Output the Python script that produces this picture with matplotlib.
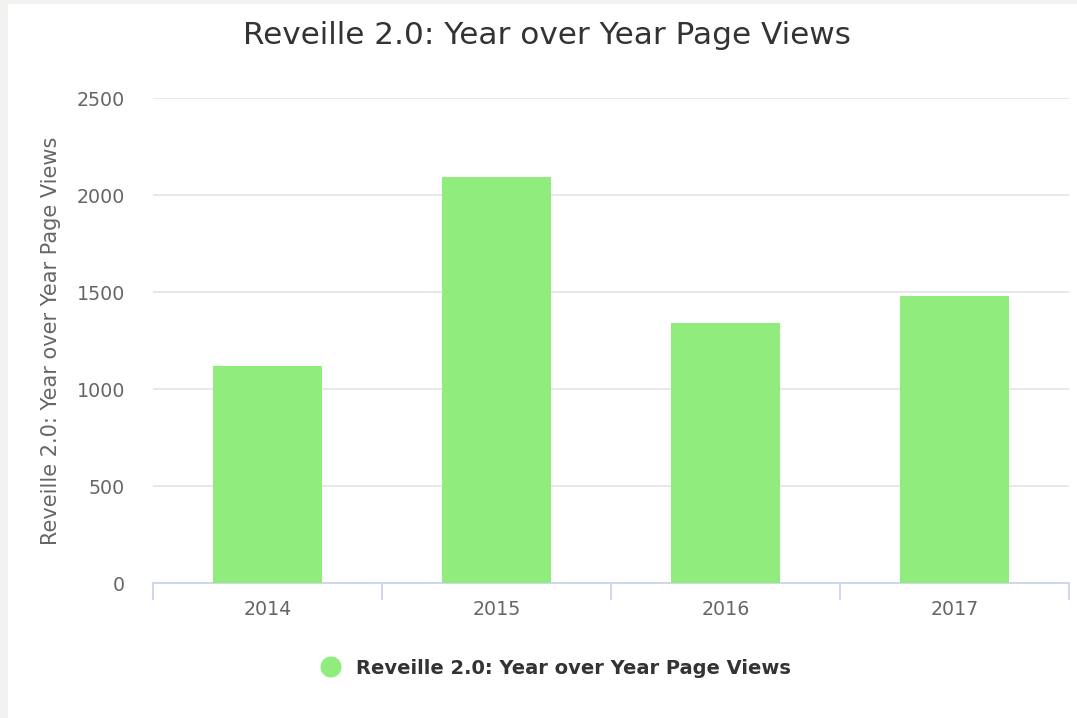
import matplotlib
matplotlib.use("Agg")
import matplotlib.pyplot as plt
from matplotlib.patches import Rectangle, Ellipse
import numpy as np

title = "Reveille 2.0: Year over Year Page Views"
years = ["2014", "2015", "2016", "2017"]
views = [1120, 2095, 1342, 1482]
yticks = [0, 500, 1000, 1500, 2000, 2500]

bar_color = "#90ed7d"
W, H = 1077, 718

plt.rcParams['font.family'] = ['DejaVu Sans']
fig = plt.figure(figsize=(W / 100, H / 100), dpi=100)
fig.patch.set_facecolor("#f2f2f0")
# white chart card, leaving the thin grey frame on the left and top
fig.patches.append(Rectangle((8 / W, 0), 1, 1 - 4 / H, transform=fig.transFigure,
                             facecolor="white", edgecolor="none", zorder=-10))

ax = fig.add_axes([153 / W, (H - 583.3) / H, (1069 - 153) / W, (583.3 - 98) / H])
ax.set_zorder(2)
ax.set_facecolor("none")

x = np.arange(len(years))
ax.bar(x, views, width=0.48, color=bar_color, zorder=3)

ax.set_xlim(-0.5, len(years) - 0.5)
ax.set_ylim(0, 2500)
ax.set_yticks(yticks)
ax.set_yticklabels([str(t) for t in yticks], color="#666666", fontsize=13.7)
ax.tick_params(axis="y", length=0, pad=20)
ax.yaxis.grid(True, color="#e6e6e6", linewidth=1.3, zorder=0)

ax.set_xticks(x)
ax.set_xticklabels(years, color="#666666", fontsize=13.7)
ax.tick_params(axis="x", length=0, pad=12)
# category boundary ticks
ax.set_xticks(np.arange(len(years) + 1) - 0.5, minor=True)
ax.tick_params(axis="x", which="minor", length=12, color="#ccd6eb", width=1.3)

for s in ["top", "right", "left"]:
    ax.spines[s].set_visible(False)
ax.spines["bottom"].set_color("#ccd6eb")
ax.spines["bottom"].set_linewidth(1.3)

ax.set_ylabel(title, color="#666666", fontsize=15, labelpad=11)

fig.text(547 / W, 1 - 36 / H, title, ha="center", va="center",
         color="#333333", fontsize=22.4, zorder=3)

# legend
fig.patches.append(Ellipse((331 / W, 1 - 667 / H), 21 / W, 21 / H, transform=fig.transFigure,
                           facecolor=bar_color, edgecolor="none", zorder=3))
fig.text(356 / W, 1 - 668 / H, title, ha="left", va="center",
         color="#333333", fontsize=14, fontweight="bold", zorder=3)

fig.savefig("out.png", dpi=100, facecolor=fig.get_facecolor())
